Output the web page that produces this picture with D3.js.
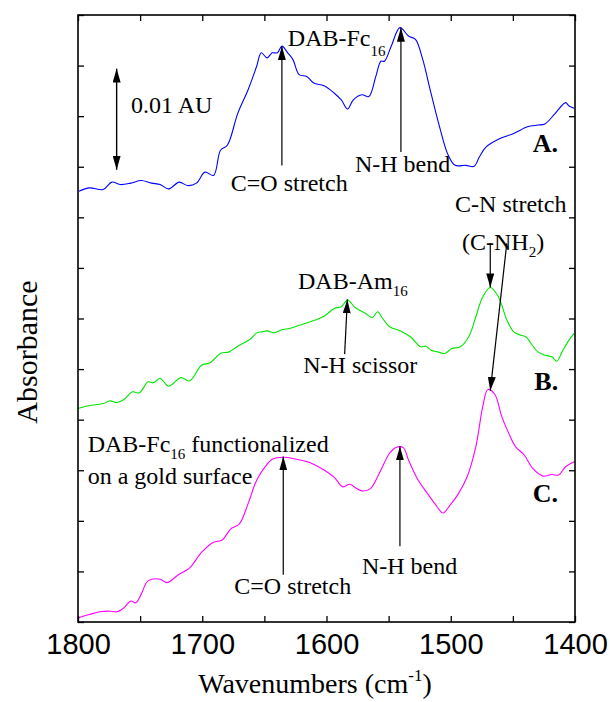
<!DOCTYPE html>
<html>
<head>
<meta charset="utf-8">
<script src="https://cdn.jsdelivr.net/npm/d3@7"></script>
<style>
  body { margin: 0; background: #fff; }
  text { font-family: "Liberation Serif", "Times New Roman", serif; fill: #000; }
  .axis text { font-family: "Liberation Sans", Arial, sans-serif; font-size: 29px; }
  .axis line { stroke: #000; stroke-width: 1.3; }
  .note { font-size: 24px; }
  .tag { font-size: 26px; font-weight: bold; }
</style>
</head>
<body>
<svg id="chart" width="610" height="702"></svg>
<script>
// spectra, wavenumber (cm-1) vs absorbance (mAU, offset stacked)
const wnA = [1799.2, 1790.8, 1779.7, 1772.8, 1765.8, 1757.5, 1749.2, 1740.8, 1733.9, 1727.0,
  1718.6, 1711.7, 1704.7, 1697.8, 1690.9, 1685.3, 1679.8, 1671.4, 1663.1, 1656.2,
  1652.5, 1647.8, 1643.7, 1639.5, 1635.9, 1631.2, 1627.0, 1622.0, 1615.9, 1610.3,
  1602.0, 1593.7, 1588.1, 1583.1, 1578.4, 1571.5, 1565.9, 1560.3, 1556.2, 1553.4,
  1547.9, 1540.9, 1534.0, 1528.4, 1522.9, 1515.9, 1509.0, 1502.0, 1496.5, 1488.1,
  1481.2, 1477.0, 1471.5, 1460.4, 1449.3, 1438.2, 1429.8, 1424.3, 1415.9, 1407.6,
  1404.8, 1400.7];
const absA = [42.58, 42.91, 42.75, 43.48, 43.24, 43.38, 43.64, 43.38, 43.24, 42.81,
  43.48, 43.14, 43.38, 44.47, 44.14, 46.63, 47.13, 50.28, 52.61, 54.93,
  56.26, 55.76, 56.26, 56.26, 56.92, 56.26, 55.59, 54.10, 53.93, 53.27,
  53.00, 52.27, 51.61, 50.71, 51.61, 52.11, 51.94, 53.93, 55.43, 55.43,
  56.92, 58.75, 57.92, 57.59, 55.76, 52.27, 48.95, 46.13, 45.14, 45.14,
  45.04, 45.97, 46.96, 47.79, 48.29, 48.95, 49.12, 49.22, 50.28, 51.34,
  51.01, 50.78];

const wnB = [1800.0, 1793.6, 1779.7, 1774.2, 1768.6, 1763.1, 1756.1, 1750.6, 1743.6, 1739.5,
  1733.9, 1727.0, 1717.2, 1710.3, 1700.6, 1693.7, 1685.3, 1678.4, 1671.4, 1661.7,
  1656.2, 1652.0, 1647.8, 1642.3, 1635.3, 1629.8, 1624.2, 1613.1, 1602.0, 1593.7,
  1588.1, 1583.1, 1577.0, 1568.6, 1563.1, 1558.9, 1554.8, 1549.2, 1540.9, 1532.5,
  1524.2, 1520.1, 1515.9, 1510.4, 1504.8, 1499.2, 1492.3, 1485.3, 1479.8, 1474.2,
  1468.1, 1461.7, 1454.8, 1449.3, 1443.7, 1439.5, 1435.4, 1429.8, 1424.3, 1418.7,
  1414.6, 1410.4, 1404.8, 1400.7];
const absB = [21.10, 21.33, 21.59, 21.86, 21.69, 21.99, 22.75, 22.65, 23.74, 23.64,
  24.07, 23.31, 24.16, 23.83, 25.38, 25.62, 26.54, 26.70, 27.26, 27.92,
  28.58, 28.68, 28.78, 28.58, 28.91, 29.01, 29.24, 29.67, 30.23, 30.99,
  31.16, 31.82, 31.09, 30.50, 30.10, 30.66, 30.00, 29.18, 28.78, 28.19,
  27.20, 27.26, 26.87, 26.70, 26.54, 27.03, 27.20, 28.25, 30.17, 32.15,
  33.07, 32.15, 29.84, 28.68, 28.35, 28.19, 27.53, 26.70, 26.37, 26.21,
  25.78, 26.70, 27.86, 28.52];

const wnC = [1800.0, 1790.8, 1782.5, 1774.2, 1768.6, 1763.1, 1757.5, 1753.4, 1749.2, 1743.6,
  1733.9, 1728.4, 1718.6, 1710.3, 1700.6, 1690.9, 1684.0, 1677.0, 1670.1, 1663.1,
  1656.2, 1649.3, 1643.7, 1634.8, 1624.2, 1613.1, 1602.0, 1593.7, 1586.8, 1581.2,
  1575.7, 1571.5, 1564.6, 1557.6, 1549.2, 1543.7, 1538.2, 1534.0, 1527.0, 1518.7,
  1511.8, 1506.2, 1500.7, 1493.8, 1486.8, 1479.8, 1474.2, 1470.1, 1464.5, 1459.0,
  1453.4, 1447.9, 1440.9, 1434.0, 1425.7, 1418.7, 1413.2, 1407.6, 1400.7];
const absC = [0.41, 0.74, 1.01, 1.07, 1.01, 1.40, 2.07, 1.90, 2.73, 4.06,
  4.23, 3.89, 4.72, 5.32, 6.88, 7.88, 8.11, 9.21, 9.70, 11.70,
  14.02, 15.35, 16.08, 16.28, 16.08, 15.75, 15.02, 14.29, 13.36, 13.62,
  13.19, 12.96, 13.19, 14.68, 16.68, 17.27, 17.24, 16.01, 14.19, 12.69,
  11.53, 10.77, 11.53, 12.69, 14.35, 17.34, 21.32, 22.98, 22.49, 20.33,
  18.67, 17.34, 16.51, 15.18, 14.42, 14.58, 14.52, 15.35, 15.85];

const seriesColors = ['#0000ff', '#00e600', '#ff00ff'];

const xTicks = [1800, 1750, 1700, 1650, 1600, 1550, 1500, 1450, 1400];
const yTicks = d3.range(0, 61, 5);

// arrows: [tail wavenumber, tail mAU, tip wavenumber, tip mAU]
const arrows = [
  [1635.9, 45.13, 1635.9, 56.92],
  [1540.1, 46.47, 1540.1, 58.75],
  [1468.2, 37.43, 1468.2, 33.07],
  [1454.9, 37.43, 1468.2, 22.85],
  [1585.4, 26.48, 1583.2, 31.89],
  [1634.8, 4.67, 1634.8, 16.36],
  [1540.9, 7.49, 1540.9, 17.35]
];
const scaleBar = [1768.9, 44.7, 54.7];

// labels: [text, subscript, tail text, wavenumber, mAU, class]
const labels = [
  ['0.01 AU', '', '', 1757.3, 50.28, 'note'],
  ['DAB-Fc', '16', '', 1631.1, 56.92, 'note'],
  ['C=O stretch', '', '', 1677.0, 42.58, 'note'],
  ['N-H bend', '', '', 1577.1, 44.47, 'note'],
  ['A.', '', '', 1434.0, 46.47, 'tag'],
  ['C-N stretch', '', '', 1496.5, 40.49, 'note'],
  ['(C-NH', '2', ')', 1490.9, 36.77, 'note'],
  ['DAB-Am', '16', '', 1622.9, 32.88, 'note'],
  ['N-H scissor', '', '', 1618.7, 24.63, 'note'],
  ['B.', '', '', 1432.7, 22.92, 'tag'],
  ['DAB-Fc', '16', ' functionalized', 1792.2, 16.85, 'note'],
  ['on a gold surface', '', '', 1792.2, 13.63, 'note'],
  ['C=O stretch', '', '', 1674.2, 2.74, 'note'],
  ['N-H bend', '', '', 1571.5, 4.73, 'note'],
  ['C.', '', '', 1434.0, 11.87, 'tag']
];

const margin = { top: 15, right: 35, bottom: 80, left: 78 };
const width = 610;
const height = 702;

const svg = d3.select('#chart');

const x = d3.scaleLinear()
  .domain([1800, 1400])
  .range([margin.left, width - margin.right]);

const y = d3.scaleLinear()
  .domain([0, 60])
  .range([height - margin.bottom, margin.top]);

// arrow head
svg.append('defs')
  .append('marker')
  .attr('id', 'head')
  .attr('markerUnits', 'userSpaceOnUse')
  .attr('markerWidth', 14)
  .attr('markerHeight', 8)
  .attr('refX', 14)
  .attr('refY', 4)
  .attr('orient', 'auto-start-reverse')
  .append('path')
  .attr('d', 'M0,0 L14,4 L0,8 Z')
  .attr('fill', '#000');

// spectra
const line = d3.line()
  .x(d => x(d[0]))
  .y(d => y(d[1]))
  .curve(d3.curveCatmullRom.alpha(0.5));

const spectra = [
  d3.zip(wnA, absA),
  d3.zip(wnB, absB),
  d3.zip(wnC, absC)
];

svg.append('g')
  .selectAll('path')
  .data(spectra)
  .join('path')
  .attr('d', line)
  .attr('fill', 'none')
  .attr('stroke', (d, i) => seriesColors[i])
  .attr('stroke-width', 1.1);

// axes, ticks point inward
svg.append('g')
  .attr('class', 'axis')
  .attr('transform', 'translate(0,' + y.range()[0] + ')')
  .call(d3.axisBottom(x).tickValues(xTicks).tickSizeInner(-6).tickSizeOuter(0).tickPadding(11)
    .tickFormat(d => d % 100 === 0 ? d : ''))
  .call(g => g.select('.domain').remove());

svg.append('g')
  .attr('class', 'axis')
  .attr('transform', 'translate(0,' + y.range()[1] + ')')
  .call(d3.axisTop(x).tickValues(xTicks).tickSizeInner(-6).tickSizeOuter(0).tickFormat(''))
  .call(g => g.select('.domain').remove());

svg.append('g')
  .attr('class', 'axis')
  .attr('transform', 'translate(' + x.range()[0] + ',0)')
  .call(d3.axisLeft(y).tickValues(yTicks).tickSizeInner(-6).tickSizeOuter(0).tickFormat(''))
  .call(g => g.select('.domain').remove());

svg.append('g')
  .attr('class', 'axis')
  .attr('transform', 'translate(' + x.range()[1] + ',0)')
  .call(d3.axisRight(y).tickValues(yTicks).tickSizeInner(-6).tickSizeOuter(0).tickFormat(''))
  .call(g => g.select('.domain').remove());

svg.append('rect')
  .attr('x', x.range()[0])
  .attr('y', y.range()[1])
  .attr('width', x.range()[1] - x.range()[0])
  .attr('height', y.range()[0] - y.range()[1])
  .attr('fill', 'none')
  .attr('stroke', '#000')
  .attr('stroke-width', 1.6);

// annotation arrows
svg.append('g')
  .selectAll('line')
  .data(arrows)
  .join('line')
  .attr('x1', d => x(d[0]))
  .attr('y1', d => y(d[1]))
  .attr('x2', d => x(d[2]))
  .attr('y2', d => y(d[3]))
  .attr('stroke', '#000')
  .attr('stroke-width', 1.2)
  .attr('marker-end', 'url(#head)');

svg.append('line')
  .attr('x1', x(scaleBar[0]))
  .attr('x2', x(scaleBar[0]))
  .attr('y1', y(scaleBar[1]))
  .attr('y2', y(scaleBar[2]))
  .attr('stroke', '#000')
  .attr('stroke-width', 1.4)
  .attr('marker-start', 'url(#head)')
  .attr('marker-end', 'url(#head)');

// annotation text
const notes = svg.append('g')
  .selectAll('text')
  .data(labels)
  .join('text')
  .attr('class', d => d[5])
  .attr('x', d => x(d[3]))
  .attr('y', d => y(d[4]));

notes.append('tspan').text(d => d[0]);
notes.filter(d => d[1] !== '')
  .append('tspan')
  .attr('font-size', 15)
  .attr('dy', d => d[0] === 'DAB-Fc' && d[2] === '' ? 10 : 7)
  .text(d => d[1]);
notes.filter(d => d[2] !== '')
  .append('tspan')
  .attr('dy', d => d[0] === 'DAB-Fc' ? -7 : -7)
  .text(d => d[2]);

// axis titles
svg.append('text')
  .attr('x', 315)
  .attr('y', 693)
  .attr('text-anchor', 'middle')
  .style('font-size', '28px')
  .text('Wavenumbers (cm')
  .call(t => t.append('tspan').attr('font-size', 17).attr('dy', -12).text('-1'))
  .call(t => t.append('tspan').attr('dy', 12).text(')'));

svg.append('text')
  .attr('transform', 'translate(37,352) rotate(-90)')
  .attr('text-anchor', 'middle')
  .style('font-size', '30px')
  .text('Absorbance');
</script>
</body>
</html>
